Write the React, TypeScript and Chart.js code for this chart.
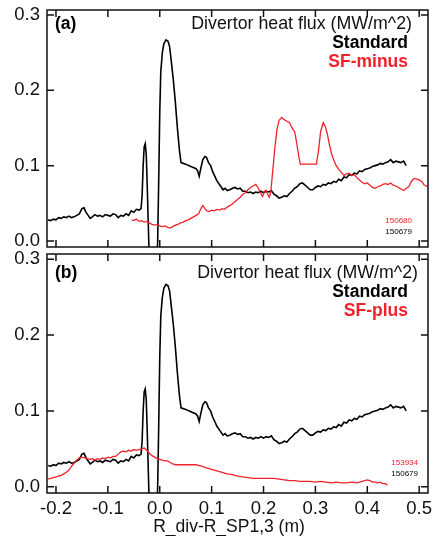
import React, { useEffect, useRef } from "react";
import { Chart, registerables } from "chart.js";
Chart.register(...registerables);

const xTicks = [-0.2, -0.1, 0.0, 0.1, 0.2, 0.3, 0.4, 0.5];
const yTicks = [0.0, 0.1, 0.2, 0.3];

// Standard (shot 150679) — same in both panels
const standardX = [-0.215,-0.21,-0.205,-0.2,-0.195,-0.19,-0.185,-0.18,-0.175,-0.17,-0.165,-0.16,-0.155,-0.15,-0.146,-0.142,-0.138,-0.134,-0.13,-0.125,-0.12,-0.115,-0.11,-0.105,-0.1,-0.095,-0.09,-0.085,-0.08,-0.075,-0.07,-0.065,-0.06,-0.055,-0.05,-0.045,-0.04,-0.036,-0.034,-0.032,-0.03,-0.028,-0.026,-0.024,-0.022,-0.02,-0.012,-0.006,-0.004,-0.002,0.0,0.002,0.005,0.008,0.012,0.016,0.019,0.022,0.026,0.03,0.034,0.038,0.041,0.05,0.06,0.07,0.073,0.076,0.079,0.083,0.087,0.09,0.094,0.098,0.102,0.106,0.11,0.114,0.118,0.122,0.126,0.13,0.135,0.14,0.145,0.15,0.155,0.16,0.165,0.17,0.175,0.18,0.185,0.19,0.195,0.2,0.205,0.21,0.215,0.22,0.225,0.23,0.235,0.24,0.245,0.25,0.255,0.26,0.265,0.27,0.275,0.28,0.285,0.29,0.295,0.3,0.305,0.31,0.315,0.32,0.325,0.33,0.335,0.34,0.345,0.35,0.355,0.36,0.365,0.37,0.375,0.38,0.385,0.39,0.395,0.4,0.405,0.41,0.415,0.42,0.425,0.43,0.435,0.44,0.445,0.45,0.455,0.46,0.465,0.47,0.475];
const standardY = [0.028,0.027,0.029,0.028,0.031,0.03,0.032,0.031,0.033,0.031,0.032,0.034,0.036,0.043,0.044,0.038,0.034,0.03,0.032,0.035,0.033,0.034,0.032,0.035,0.034,0.033,0.036,0.035,0.031,0.034,0.033,0.036,0.034,0.04,0.038,0.042,0.041,0.043,0.06,0.1,0.125,0.129,0.115,0.07,0.02,-0.03,-0.06,-0.03,0.0,0.08,0.17,0.225,0.25,0.262,0.267,0.265,0.258,0.24,0.215,0.185,0.15,0.12,0.104,0.102,0.099,0.096,0.093,0.086,0.096,0.108,0.112,0.111,0.104,0.1,0.092,0.086,0.08,0.076,0.072,0.068,0.07,0.067,0.068,0.07,0.071,0.069,0.07,0.066,0.066,0.064,0.065,0.063,0.065,0.064,0.066,0.064,0.066,0.065,0.067,0.062,0.06,0.057,0.058,0.06,0.059,0.063,0.066,0.07,0.072,0.076,0.077,0.074,0.071,0.068,0.068,0.071,0.073,0.072,0.075,0.074,0.077,0.076,0.079,0.078,0.082,0.08,0.085,0.084,0.088,0.087,0.09,0.089,0.093,0.092,0.095,0.096,0.097,0.099,0.1,0.101,0.103,0.102,0.104,0.105,0.108,0.104,0.106,0.105,0.104,0.106,0.1];

// SF-minus (shot 150680)
const minusX = [-0.054,-0.05,-0.045,-0.04,-0.035,-0.03,-0.025,-0.02,-0.015,-0.01,-0.005,0.0,0.005,0.01,0.015,0.02,0.025,0.03,0.035,0.04,0.045,0.05,0.055,0.06,0.065,0.07,0.075,0.08,0.083,0.087,0.091,0.095,0.1,0.105,0.11,0.115,0.12,0.125,0.13,0.135,0.14,0.145,0.15,0.155,0.16,0.165,0.17,0.175,0.18,0.185,0.19,0.194,0.198,0.202,0.205,0.208,0.211,0.214,0.218,0.222,0.226,0.23,0.235,0.24,0.245,0.25,0.255,0.26,0.264,0.268,0.271,0.28,0.29,0.302,0.306,0.31,0.315,0.319,0.323,0.327,0.331,0.335,0.34,0.345,0.35,0.355,0.36,0.365,0.37,0.375,0.38,0.385,0.39,0.395,0.4,0.405,0.41,0.415,0.42,0.425,0.43,0.435,0.44,0.445,0.45,0.455,0.46,0.465,0.47,0.475,0.48,0.485,0.49,0.495,0.5,0.505,0.51,0.517];
const minusY = [0.028,0.027,0.029,0.026,0.027,0.025,0.026,0.024,0.022,0.021,0.022,0.02,0.019,0.02,0.018,0.017,0.019,0.021,0.022,0.024,0.025,0.027,0.028,0.03,0.032,0.034,0.036,0.044,0.047,0.043,0.04,0.039,0.041,0.04,0.042,0.041,0.043,0.042,0.045,0.047,0.049,0.052,0.055,0.058,0.062,0.064,0.068,0.071,0.073,0.075,0.07,0.064,0.059,0.066,0.067,0.062,0.058,0.065,0.095,0.125,0.148,0.16,0.164,0.161,0.159,0.157,0.15,0.145,0.13,0.112,0.102,0.102,0.102,0.102,0.12,0.145,0.157,0.152,0.142,0.128,0.116,0.108,0.1,0.095,0.091,0.087,0.089,0.09,0.087,0.088,0.084,0.081,0.078,0.076,0.077,0.074,0.071,0.07,0.072,0.073,0.075,0.076,0.075,0.077,0.074,0.073,0.071,0.069,0.067,0.07,0.072,0.079,0.083,0.082,0.081,0.079,0.074,0.072];

// SF-plus (shot 153934)
const plusX = [-0.215,-0.21,-0.205,-0.2,-0.195,-0.19,-0.185,-0.18,-0.175,-0.17,-0.165,-0.16,-0.155,-0.15,-0.145,-0.14,-0.135,-0.13,-0.125,-0.12,-0.115,-0.11,-0.105,-0.1,-0.095,-0.09,-0.085,-0.08,-0.075,-0.07,-0.065,-0.06,-0.055,-0.05,-0.045,-0.04,-0.035,-0.03,-0.025,-0.02,-0.015,-0.01,-0.005,0.0,0.005,0.01,0.015,0.02,0.025,0.03,0.04,0.05,0.06,0.07,0.075,0.08,0.09,0.1,0.11,0.12,0.13,0.14,0.15,0.16,0.17,0.18,0.19,0.2,0.21,0.22,0.23,0.24,0.25,0.26,0.27,0.28,0.29,0.3,0.31,0.32,0.33,0.34,0.35,0.36,0.37,0.38,0.39,0.4,0.405,0.41,0.415,0.42,0.425,0.43,0.435,0.439];
const plusY = [0.01,0.011,0.012,0.013,0.014,0.015,0.017,0.019,0.022,0.027,0.031,0.035,0.038,0.039,0.038,0.037,0.036,0.037,0.035,0.037,0.036,0.038,0.037,0.039,0.038,0.04,0.04,0.043,0.046,0.047,0.046,0.048,0.047,0.049,0.048,0.049,0.05,0.051,0.048,0.044,0.041,0.039,0.037,0.036,0.035,0.034,0.034,0.032,0.03,0.029,0.029,0.029,0.029,0.029,0.028,0.027,0.025,0.023,0.021,0.019,0.017,0.016,0.014,0.013,0.012,0.011,0.011,0.011,0.011,0.011,0.01,0.009,0.008,0.008,0.007,0.007,0.007,0.006,0.007,0.006,0.005,0.006,0.005,0.005,0.006,0.005,0.007,0.009,0.008,0.006,0.006,0.005,0.006,0.004,0.004,0.002];

const xAxisTitle = "R_div-R_SP1,3 (m)";
const RED = "#f0222a";
const FONT = "'Liberation Sans', Arial, Helvetica, sans-serif";

type PanelCfg = {
  label: string;
  second: string;
  shotRed: string;
  shotBlack: string;
  redX: number[];
  redY: number[];
  titleRight: number;
  titleY: number;
  legendRight: number;
  shotRight: number;
  shotY: number;
  yMin: number;
  yMax: number;
  bottomAxis: boolean;
};

function pts(xs: number[], ys: number[]) {
  return xs.map((x, i) => ({ x, y: ys[i] }));
}

function makePlugin(cfg: PanelCfg) {
  return {
    id: "frame",
    afterDatasetsDraw(chart: any) {
      const { ctx, chartArea: a, scales } = chart;
      ctx.save();
      ctx.strokeStyle = "#111";
      ctx.lineWidth = 1.5;
      ctx.strokeRect(a.left, a.top, a.right - a.left, a.bottom - a.top);
      const L = 7;
      ctx.beginPath();
      xTicks.forEach((v) => {
        const px = scales.x.getPixelForValue(v);
        ctx.moveTo(px, a.bottom);
        ctx.lineTo(px, a.bottom - L);
        ctx.moveTo(px, a.top);
        ctx.lineTo(px, a.top + L);
      });
      yTicks.forEach((v) => {
        const py = scales.y.getPixelForValue(v);
        ctx.moveTo(a.left, py);
        ctx.lineTo(a.left + L, py);
        ctx.moveTo(a.right, py);
        ctx.lineTo(a.right - L, py);
      });
      ctx.stroke();

      ctx.textBaseline = "middle";
      ctx.fillStyle = "#000";
      ctx.textAlign = "left";
      ctx.font = `bold 17.5px ${FONT}`;
      ctx.fillText(cfg.label, a.left + 8, a.top + cfg.titleY);
      ctx.textAlign = "right";
      ctx.font = `17.8px ${FONT}`;
      ctx.fillStyle = "#111";
      ctx.fillText("Divertor heat flux (MW/m^2)", a.right - cfg.titleRight, a.top + cfg.titleY);
      ctx.font = `bold 17.5px ${FONT}`;
      ctx.fillStyle = "#000";
      ctx.fillText("Standard", a.right - cfg.legendRight, a.top + cfg.titleY + 19);
      ctx.fillStyle = RED;
      ctx.fillText(cfg.second, a.right - cfg.legendRight, a.top + cfg.titleY + 38);
      ctx.font = `8px ${FONT}`;
      ctx.fillStyle = RED;
      ctx.fillText(cfg.shotRed, a.right - cfg.shotRight, a.bottom - cfg.shotY);
      ctx.fillStyle = "#000";
      ctx.fillText(cfg.shotBlack, a.right - cfg.shotRight, a.bottom - cfg.shotY + 11);
      if (cfg.bottomAxis) {
        ctx.textAlign = "center";
        ctx.font = `17.5px ${FONT}`;
        ctx.fillStyle = "#111";
        ctx.fillText(xAxisTitle, a.left + 182, a.bottom + 34);
      }
      ctx.restore();
    },
  };
}

function Panel({ cfg, top, height }: { cfg: PanelCfg; top: number; height: number }) {
  const ref = useRef<HTMLCanvasElement>(null);
  useEffect(() => {
    if (!ref.current) return;
    const chart = new Chart(ref.current, {
      type: "line",
      data: {
        datasets: [
          {
            data: pts(cfg.redX, cfg.redY),
            borderColor: RED,
            borderWidth: 1.3,
            pointRadius: 0,
            tension: 0,
          },
          {
            data: pts(standardX, standardY),
            borderColor: "#000",
            borderWidth: 1.6,
            pointRadius: 0,
            tension: 0,
          },
        ],
      },
      options: {
        responsive: false,
        animation: false,
        layout: {
          padding: cfg.bottomAxis
            ? { top: 4, right: 14, bottom: 0, left: 0 }
            : { top: 10, right: 14, bottom: 3, left: 0 },
        },
        plugins: { legend: { display: false }, tooltip: { enabled: false } },
        scales: {
          x: {
            type: "linear",
            min: -0.2173,
            max: 0.517,
            display: cfg.bottomAxis,
            grid: { display: false, drawTicks: false },
            border: { display: false },
            afterBuildTicks: (s: any) => {
              s.ticks = xTicks.map((v) => ({ value: v }));
            },
            afterFit: (s: any) => {
              s.height = cfg.bottomAxis ? 43 : 0;
              s.paddingLeft = 0;
              s.paddingRight = 0;
            },
            ticks: {
              padding: 5,
              color: "#111",
              font: { family: FONT, size: 18.5 },
              callback: (v: any) => Number(v).toFixed(1),
              maxRotation: 0,
              autoSkip: false,
            },
          },
          y: {
            type: "linear",
            min: cfg.yMin,
            max: cfg.yMax,
            grid: { display: false, drawTicks: false },
            border: { display: false },
            afterBuildTicks: (s: any) => {
              s.ticks = yTicks.map((v) => ({ value: v }));
            },
            afterFit: (s: any) => {
              s.width = 47;
              s.paddingTop = 0;
              s.paddingBottom = 0;
            },
            ticks: {
              padding: 7,
              color: "#111",
              font: { family: FONT, size: 18.5 },
              callback: (v: any) => Number(v).toFixed(1),
            },
          },
        },
      },
      plugins: [makePlugin(cfg)],
    } as any);
    return () => chart.destroy();
  }, []);
  return (
    <canvas
      ref={ref}
      width={442}
      height={height}
      style={{ position: "absolute", left: 0, top, display: "block" }}
    />
  );
}

const panelA: PanelCfg = {
  label: "(a)",
  second: "SF-minus",
  shotRed: "150680",
  shotBlack: "150679",
  redX: minusX,
  redY: minusY,
  titleRight: 16,
  titleY: 14,
  legendRight: 20,
  shotRight: 16,
  shotY: 26,
  yMin: -0.008,
  yMax: 0.3066,
  bottomAxis: false,
};

const panelB: PanelCfg = {
  label: "(b)",
  second: "SF-plus",
  shotRed: "153934",
  shotBlack: "150679",
  redX: plusX,
  redY: plusY,
  titleRight: 10,
  titleY: 19,
  legendRight: 20,
  shotRight: 10,
  shotY: 30,
  yMin: -0.0083,
  yMax: 0.307,
  bottomAxis: true,
};

export default function App() {
  return (
    <div style={{ position: "fixed", left: 0, top: 0, width: 442, height: 536, background: "#fff" }}>
      <Panel cfg={panelA} top={0} height={250} />
      <Panel cfg={panelB} top={250} height={286} />
    </div>
  );
}
